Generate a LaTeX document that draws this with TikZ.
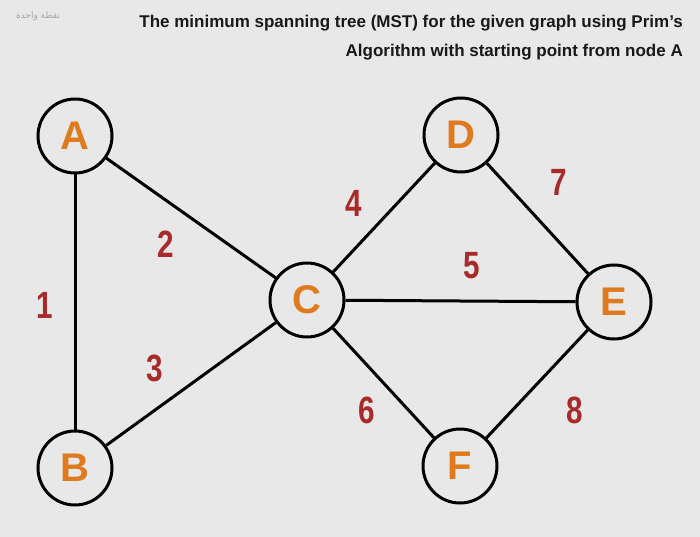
\documentclass[tikz,border=0pt]{standalone}
\usepackage{fontspec}
\setmainfont{Liberation Sans}
\newfontfamily\arabicfont[Script=Arabic]{DejaVu Sans}
\newfontfamily\narrowfont[FakeStretch=0.78]{Liberation Sans}
\TeXXeTstate=1
\definecolor{bgc}{HTML}{E8E8E8}
\definecolor{lettercol}{HTML}{E07A1F}
\definecolor{wcol}{HTML}{A82A2A}
\tikzset{
  vert/.style={circle, draw=black, line width=3pt, fill=bgc, minimum size=74pt, inner sep=0pt,
    font=\fontsize{40}{40}\selectfont\bfseries, text=lettercol},
  edge/.style={line width=3pt, draw=black},
  wlab/.style={font=\narrowfont\fontsize{38}{38}\selectfont\bfseries, text=wcol, inner sep=0pt},
  ttl/.style={font=\fontsize{17}{17}\selectfont\bfseries, text=black!90, inner sep=0pt, anchor=base east}
}
\begin{document}
\begin{tikzpicture}[x=1pt,y=-1pt]
\fill[bgc] (0,0) rectangle (700,537);
\useasboundingbox (0,0) rectangle (700,537);
\node[font=\arabicfont\fontsize{9}{9}\selectfont, text=gray!70, inner sep=0pt] (ar) at (38,16) {\beginR نقطة واحدة\endR};
\node[ttl] (t1) at (683,28) {The minimum spanning tree (MST) for the given graph using Prim's};
\node[ttl] (t2) at (683,57) {Algorithm with starting point from node A};
\node[vert] (A) at (75,136) {A};
\node[vert] (B) at (75,468) {B};
\node[vert] (C) at (307,300) {C};
\node[vert] (D) at (461,135) {D};
\node[vert] (E) at (614,302) {E};
\node[vert] (F) at (460,466) {F};
\draw[edge] (A) -- (B);
\draw[edge] (A) -- (C);
\draw[edge] (B) -- (C);
\draw[edge] (C) -- (D);
\draw[edge] (C) -- (E);
\draw[edge] (C) -- (F);
\draw[edge] (D) -- (E);
\draw[edge] (E) -- (F);
\node[wlab] (w1) at (45,305) {1};
\node[wlab] (w2) at (166,244) {2};
\node[wlab] (w3) at (155,368) {3};
\node[wlab] (w4) at (354,203) {4};
\node[wlab] (w5) at (472,266) {5};
\node[wlab] (w6) at (367,410) {6};
\node[wlab] (w7) at (559,182) {7};
\node[wlab] (w8) at (575,410) {8};
\end{tikzpicture}
\end{document}
